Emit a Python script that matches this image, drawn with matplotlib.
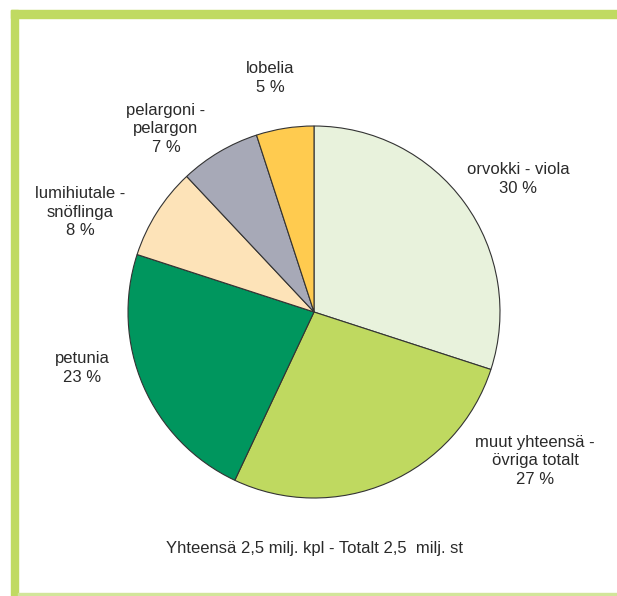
import matplotlib.pyplot as plt
from matplotlib import font_manager
from matplotlib.patches import Rectangle

names = ["orvokki - viola", "muut yhteensä -\növriga totalt", "petunia",
         "lumihiutale -\nsnöflinga", "pelargoni -\npelargon", "lobelia"]
shares = [30, 27, 23, 8, 7, 5]
colors = ["#e8f2dc", "#bfd960", "#00965e", "#fde3b8", "#a7a9b7", "#ffcb4f"]
label_pos = [(518, 179), (535, 461), (82, 368), (80, 212), (166, 129), (270, 78)]
footer = "Yhteensä 2,5 milj. kpl - Totalt 2,5  milj. st"

avail = {f.name for f in font_manager.fontManager.ttflist}
fam = "Liberation Sans Narrow" if "Liberation Sans Narrow" in avail else "Liberation Sans"
plt.rcParams["font.family"] = [fam, "DejaVu Sans"]

W, H = 617, 596
fig = plt.figure(figsize=(W / 100, H / 100), dpi=100)
fig.patch.set_facecolor("white")

# frame bars (pixel coords via figure fraction)
def px_rect(x0, y0, x1, y1, c):
    fig.patches.append(Rectangle((x0 / W, 1 - y1 / H), (x1 - x0) / W, (y1 - y0) / H,
                                 transform=fig.transFigure, color=c, zorder=0))

px_rect(11, 10, W, 18, "#c0da62")
px_rect(11, 10, 18, H, "#c0da62")
px_rect(18, 593, W, 596, "#d2e59a")

cx, cy, r = 314, 312, 186
ax = fig.add_axes([(cx - r) / W, 1 - (cy + r) / H, 2 * r / W, 2 * r / H])
ax.pie(shares, colors=colors, startangle=90, counterclock=False,
       wedgeprops=dict(edgecolor="#333333", linewidth=0.8))
ax.set_xlim(-1, 1)
ax.set_ylim(-1, 1)
ax.set_aspect("auto")
ax.axis("off")

for name, s, (x, y) in zip(names, shares, label_pos):
    fig.text(x / W, 1 - y / H, f"{name}\n{s} %", ha="center", va="center",
             fontsize=12, color="#2a2a2a", linespacing=1.3)

fig.text(314 / W, 1 - 549 / H, footer, ha="center", va="center",
         fontsize=12, color="#2a2a2a")

fig.savefig("out.png", dpi=100)
